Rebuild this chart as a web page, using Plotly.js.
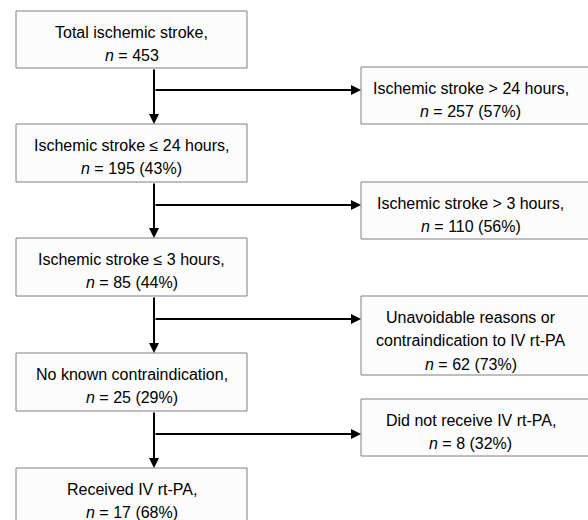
<!DOCTYPE html>
<html>
<head>
<meta charset="utf-8">
<script src="https://cdn.plot.ly/plotly-3.0.1.min.js"></script>
<style>html,body{margin:0;padding:0;background:#fff;}#chart{width:588px;height:520px;}</style>
</head>
<body>
<div id="chart"></div>
<script>
// ---- data ----
var mainLabels = [
  ["Total ischemic stroke,"],
  ["Ischemic stroke \u2264 24 hours,"],
  ["Ischemic stroke \u2264 3 hours,"],
  ["No known contraindication,"],
  ["Received IV rt-PA,"]
];
var mainN = [453, 195, 85, 25, 17];
var mainPct = [null, 43, 44, 29, 68];

var exclLabels = [
  ["Ischemic stroke > 24 hours,"],
  ["Ischemic stroke > 3 hours,"],
  ["Unavoidable reasons or", "contraindication to IV rt-PA"],
  ["Did not receive IV rt-PA,"]
];
var exclN = [257, 110, 62, 8];
var exclPct = [57, 56, 73, 32];

// ---- layout geometry (pixel-space axes) ----
var mainX = [16, 247];
var mainY = [[11, 68], [124, 182], [238, 296], [353, 411], [468, 530]];
var exclX = [361, 592];
var exclY = [[67, 124], [182, 239], [296, 375], [399, 456]];
var spineX = 154;
var branchY = [90, 205, 319, 434];
var lineStart = 21, lineStep = 23.5;

function countLine(n, p) {
  return "<i>n</i> = " + n + (p === null ? "" : " (" + p + "%)");
}

var shapes = [];
var annotations = [];
var font = {family: "Liberation Sans, Arial, sans-serif", size: 16, color: "#000"};

function addBox(x, y, lines) {
  shapes.push({type: "rect", xref: "x", yref: "y", x0: x[0], x1: x[1], y0: y[0], y1: y[1],
    line: {color: "#808080", width: 1}, fillcolor: "#fcfcfc", layer: "below"});
  var cx = (x[0] + x[1]) / 2;
  if (x[1] > 588) cx = (x[0] + 578) / 2 + 1;
  lines.forEach(function (t, i) {
    annotations.push({x: cx, y: y[0] + lineStart + lineStep * i, xref: "x", yref: "y",
      text: t, showarrow: false, font: font, xanchor: "center", yanchor: "middle"});
  });
}

mainLabels.forEach(function (lab, i) {
  addBox(mainX, mainY[i], lab.concat([countLine(mainN[i], mainPct[i])]));
});
exclLabels.forEach(function (lab, i) {
  addBox(exclX, exclY[i], lab.concat([countLine(exclN[i], exclPct[i])]));
});

function arrow(x0, y0, x1, y1) {
  annotations.push({x: x1, y: y1, ax: x0, ay: y0, xref: "x", yref: "y", axref: "x", ayref: "y",
    text: "", showarrow: true, arrowhead: 2, arrowsize: 1.0, arrowwidth: 2, arrowcolor: "#000",
    standoff: 0, startstandoff: 0});
}

for (var i = 0; i < mainY.length - 1; i++) {
  arrow(spineX, mainY[i][1], spineX, mainY[i + 1][0]);
}
branchY.forEach(function (by) {
  arrow(spineX, by, exclX[0], by);
});

var layout = {
  width: 588, height: 520,
  margin: {l: 0, r: 0, t: 0, b: 0},
  paper_bgcolor: "#fff", plot_bgcolor: "#fff",
  xaxis: {range: [0, 588], visible: false, fixedrange: true},
  yaxis: {range: [520, 0], visible: false, fixedrange: true},
  shapes: shapes, annotations: annotations, showlegend: false
};
Plotly.newPlot("chart", [], layout, {displayModeBar: false, staticPlot: true});
</script>
</body>
</html>
